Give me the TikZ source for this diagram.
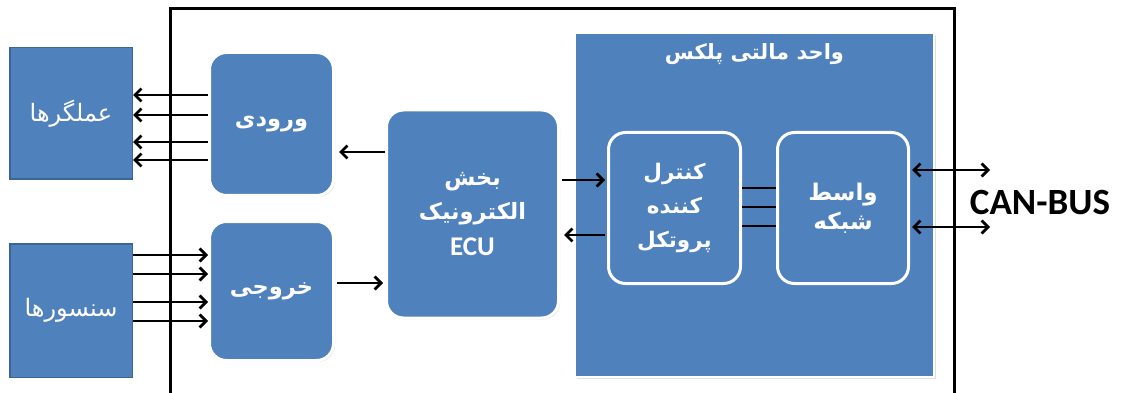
\documentclass[tikz,border=0pt]{standalone}
\usepackage{fontspec}
\TeXXeTstate=1
\newfontfamily\fa[Script=Arabic]{DejaVu Sans}
\setsansfont{Carlito}
\usetikzlibrary{arrows.meta,shadows}
\definecolor{boxblue}{HTML}{4F81BD}
\definecolor{boxedge}{HTML}{3A6597}

\begin{document}
\begin{tikzpicture}[x=1pt,y=-1pt,
  sqbox/.style={draw=boxedge, line width=1.5pt, fill=boxblue, inner sep=0pt},
  rbox/.style={draw=white, line width=3pt, fill=boxblue, rounded corners=17pt,
    inner sep=0pt, drop shadow={opacity=0.25, shadow xshift=1.5pt, shadow yshift=-1.5pt}},
  falbl/.style={text=white, align=center, font=\fa\bfseries\fontsize{22.5}{34}\selectfont},
  faplain/.style={text=white, align=center, font=\fa\fontsize{24}{28}\selectfont},
  arr/.style={line width=2.7pt, -{Straight Barb[length=6.5pt,width=13pt]}},
  biarr/.style={line width=2.7pt, {Straight Barb[length=6.5pt,width=13pt]}-{Straight Barb[length=6.5pt,width=13pt]}},
  link/.style={line width=2.8pt}
]
\useasboundingbox (0,0) rectangle (1125,393);

% outer frame, open at the bottom
\draw[line width=3pt] (170,393) -- (170,9) -- (954,9) -- (954,393);

% multiplex unit
\node[draw=white, line width=1.5pt, fill=boxblue, inner sep=0pt,
      minimum width=359pt, minimum height=344pt,
      drop shadow={opacity=0.25, shadow xshift=2pt, shadow yshift=-2pt}]
      (mux) at (754.5,205) {};
\node[text=white, font=\fa\bfseries\fontsize{21}{24}\selectfont, anchor=north]
      (muxtitle) at ([yshift=-8pt]mux.north)
      {\beginR واحد مالتی پلکس\endR};

% actuators and sensors
\node[sqbox, minimum width=122.5pt, minimum height=131.5pt, faplain] (act) at (71,113.5)
      {\beginR عملگرها\endR};
\node[sqbox, minimum width=122.5pt, minimum height=133.5pt, faplain] (sen) at (71,310.5)
      {\beginR سنسورها\endR};

% input / output blocks
\node[rbox, minimum width=124pt, minimum height=143pt, falbl] (in) at (271.5,124)
      {\beginR ورودی\endR};
\node[rbox, minimum width=124pt, minimum height=139pt, falbl] (out) at (271.5,291)
      {\raisebox{-5pt}{\beginR خروجی\endR}};

% electronic control unit
\node[rbox, minimum width=172pt, minimum height=208pt, falbl,
      font=\fa\bfseries\fontsize{22.5}{34}\selectfont] (ecu) at (472.5,214)
      {\beginR بخش\endR\\ \beginR الکترونیک\endR\\[2pt] {\sffamily\bfseries\fontsize{27}{34}\selectfont ECU}};

% protocol controller and network interface
\node[rbox, minimum width=132pt, minimum height=151pt, falbl,
      font=\fa\bfseries\fontsize{21.5}{34}\selectfont] (ctl) at (674.5,208)
      {\beginR کنترل\endR\\ \beginR کننده\endR\\ \beginR پروتکل\endR};
\node[rbox, minimum width=131pt, minimum height=151pt, falbl,
      font=\fa\bfseries\fontsize{23}{29}\selectfont] (net) at (843,208)
      {\beginR واسط\endR\\ \beginR شبکه\endR};

% bus label
\node[font=\sffamily\bfseries\fontsize{37}{40}\selectfont, inner sep=0pt] (can) at (1040,203) {CAN-BUS};
\coordinate (bus1) at (990,170);
\coordinate (bus2) at (990,227);

% input block to actuators
\foreach \yy in {95,115,142,160}
  \draw[arr] (in.west |- 0,\yy) -- (act.east |- 0,\yy);
% sensors to output block
\foreach \yy in {255,274,302,321}
  \draw[arr] (sen.east |- 0,\yy) -- (out.west |- 0,\yy);

% ECU links
\draw[arr] (ecu.west |- 0,152) -- ([xshift=4pt]in.east |- 0,152);
\draw[arr] ([xshift=2pt]out.east |- 0,283) -- ([xshift=-2pt]ecu.west |- 0,283);
\draw[arr] ([xshift=2pt]ecu.east |- 0,180) -- ([xshift=-2pt]ctl.west |- 0,180);
\draw[arr] ([xshift=-2pt]ctl.west |- 0,235) -- ([xshift=4pt]ecu.east |- 0,235);

% controller to network interface
\foreach \yy in {188,207,226}
  \draw[link] (ctl.east |- 0,\yy) -- (net.west |- 0,\yy);

% network interface to the bus
\draw[biarr] ([xshift=2pt]net.east |- 0,170) -- (bus1);
\draw[biarr] ([xshift=2pt]net.east |- 0,227) -- (bus2);
\end{tikzpicture}
\end{document}
